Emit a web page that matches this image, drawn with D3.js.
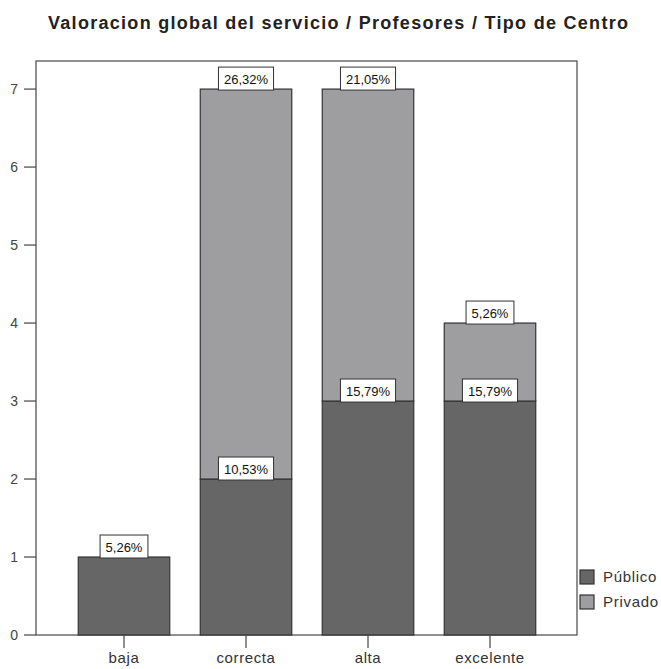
<!DOCTYPE html>
<html><head><meta charset="utf-8">
<script src="https://cdn.jsdelivr.net/npm/d3@7"></script>
<style>body{margin:0;background:#fff}svg{display:block}text{font-family:"Liberation Sans",Arial,sans-serif}</style>
</head><body>
<script>
const categories = ["baja","correcta","alta","excelente"];
const series = ["Público","Privado"];
const publico = [1,2,3,3];
const privado = [0,5,4,1];
const publicoLabels = ["5,26%","10,53%","15,79%","15,79%"];
const privadoLabels = ["","26,32%","21,05%","5,26%"];
const yTicks = [0,1,2,3,4,5,6,7];
const colors = ["#666666","#9e9ea0"];

const W=661,H=669;
const frame={l:36,r:577,t:61,b:635};
const svg=d3.select("body").append("svg").attr("width",W).attr("height",H);

const x=d3.scaleBand().domain(categories).range([63,551]).paddingInner(0.25).paddingOuter(0.125);
const y=d3.scaleLinear().domain([0,7.36]).range([frame.b,frame.t]);

// title
const titleStr="Valoracion global del servicio / Profesores / Tipo de Centro";
const title=svg.append("text").attr("x",48).attr("y",29)
  .attr("font-size",18).attr("font-weight","bold").attr("fill","#222").text(titleStr);
const tw0=title.node().getComputedTextLength();
title.style("letter-spacing",((580-tw0)/(titleStr.length-1)).toFixed(3)+"px");

// frame
svg.append("rect").attr("x",frame.l).attr("y",frame.t).attr("width",frame.r-frame.l).attr("height",frame.b-frame.t)
  .attr("fill","none").attr("stroke","#555").attr("stroke-width",1.3);

// bars
const stackData=categories.map((c,i)=>({cat:c,p:publico[i],v:privado[i],pl:publicoLabels[i],vl:privadoLabels[i]}));
const stack=d3.stack().keys(["p","v"])(stackData);
stack.forEach((layer,k)=>{
  svg.append("g").selectAll("rect").data(layer.filter(d=>d[1]>d[0])).join("rect")
    .attr("x",d=>x(d.data.cat)).attr("width",x.bandwidth())
    .attr("y",d=>y(d[1])).attr("height",d=>y(d[0])-y(d[1]))
    .attr("fill",colors[k]).attr("stroke","#333").attr("stroke-width",1.2);
});

// labels
const labG=svg.append("g");
stack.forEach((layer,k)=>{
  layer.forEach(d=>{
    const lab = k===0? d.data.pl : d.data.vl;
    if(!lab) return;
    const cx=x(d.data.cat)+x.bandwidth()/2;
    const top=y(d[1]);
    const g=labG.append("g");
    const r=g.append("rect");
    const t=g.append("text").attr("x",cx).attr("y",top-5).attr("text-anchor","middle")
      .attr("font-size",13).attr("fill","#111").text(lab);
    const tw=t.node().getComputedTextLength();
    const bw=tw+11;
    r.attr("x",cx-bw/2).attr("y",top-22).attr("width",bw).attr("height",23)
      .attr("fill","#fff").attr("stroke","#333").attr("stroke-width",1);
  });
});

// y axis ticks
const yg=svg.append("g");
yTicks.forEach(v=>{
  yg.append("line").attr("x1",frame.l-12).attr("x2",frame.l).attr("y1",y(v)).attr("y2",y(v)).attr("stroke","#444").attr("stroke-width",1.2);
  yg.append("text").attr("x",18).attr("y",y(v)+5).attr("text-anchor","end").attr("font-size",14).attr("fill","#444").text(v);
});

// x axis ticks
const xg=svg.append("g");
categories.forEach(c=>{
  const cx=x(c)+x.bandwidth()/2;
  xg.append("line").attr("x1",cx).attr("x2",cx).attr("y1",frame.b).attr("y2",frame.b+13).attr("stroke","#444").attr("stroke-width",1.2);
  xg.append("text").attr("x",cx).attr("y",frame.b+28).attr("text-anchor","middle").attr("font-size",15).attr("letter-spacing","0.6").attr("fill","#333").text(c);
});

// legend
series.forEach((s,i)=>{
  const ly=570+i*25;
  svg.append("rect").attr("x",580).attr("y",ly).attr("width",14).attr("height",14)
    .attr("fill",colors[i]).attr("stroke","#333").attr("stroke-width",1.2);
  svg.append("text").attr("x",603).attr("y",ly+12).attr("font-size",15).attr("fill","#333").attr("letter-spacing","0.7").text(s);
});
</script>
</body></html>
